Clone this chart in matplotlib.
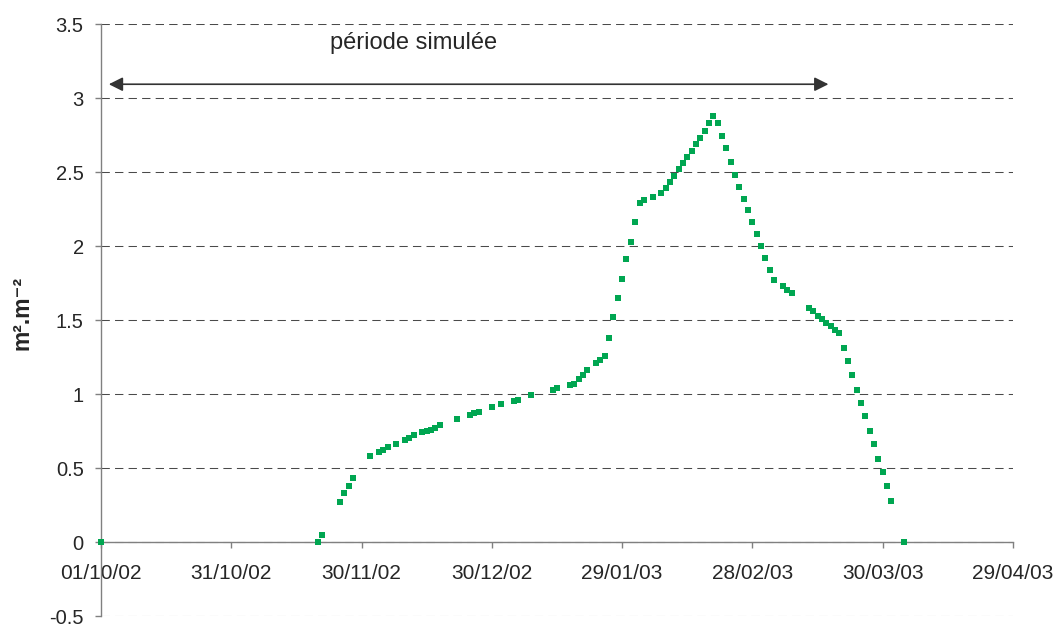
import datetime as dt
import matplotlib
matplotlib.use("Agg")
import matplotlib.pyplot as plt
import matplotlib.dates as mdates
from matplotlib.ticker import MultipleLocator, FormatStrFormatter

plt.rcParams["font.family"] = ["Liberation Sans", "DejaVu Sans"]
plt.rcParams["axes.unicode_minus"] = False

# Leaf area index (m2.m-2) by day since 1 October 2002
start_date = dt.date(2002, 10, 1)
day_offsets = [
    0, 50, 51, 55, 56, 57, 58, 62, 64, 65, 66, 68, 70, 71, 72, 74, 75, 76, 77, 78,
    82, 85, 86, 87, 90, 92, 95, 96, 99, 104, 105, 108, 109, 110, 111, 112, 114,
    115, 116, 117, 118, 119, 120, 121, 122, 123, 124, 125, 127, 129, 130, 131,
    132, 133, 134, 135, 136, 137, 138, 139, 140, 141, 142, 143, 144, 145, 146,
    147, 148, 149, 150, 151, 152, 153, 154, 155, 157, 158, 159, 163, 164, 165,
    166, 167, 168, 169, 170, 171, 172, 173, 174, 175, 176, 177, 178, 179, 180,
    181, 182, 185,
]
lai_values = [
    0.00, 0.00, 0.05, 0.27, 0.33, 0.38, 0.43, 0.58, 0.61, 0.62, 0.64, 0.66, 0.69,
    0.70, 0.72, 0.74, 0.75, 0.76, 0.77, 0.79, 0.83, 0.86, 0.87, 0.88, 0.91, 0.93,
    0.95, 0.96, 0.99, 1.03, 1.04, 1.06, 1.07, 1.10, 1.13, 1.16, 1.21, 1.23, 1.26,
    1.38, 1.52, 1.65, 1.78, 1.91, 2.03, 2.16, 2.29, 2.31, 2.33, 2.36, 2.39, 2.43,
    2.47, 2.52, 2.56, 2.60, 2.64, 2.69, 2.73, 2.78, 2.83, 2.88, 2.83, 2.74, 2.66,
    2.57, 2.48, 2.40, 2.32, 2.24, 2.16, 2.08, 2.00, 1.92, 1.84, 1.77, 1.73, 1.70,
    1.68, 1.58, 1.56, 1.53, 1.51, 1.48, 1.46, 1.43, 1.41, 1.31, 1.22, 1.13, 1.03,
    0.94, 0.85, 0.75, 0.66, 0.56, 0.47, 0.38, 0.28, 0.00,
]

tick_step_days = 30
n_ticks = 8
y_min, y_max, y_step = -0.5, 3.5, 0.5

# simulated period arrow (days since start) and its caption
period_start_day, period_end_day, period_y = 1.8, 167.5, 3.093
period_label = "période simulée"
period_label_day, period_label_y = 72, 3.37

dates = [start_date + dt.timedelta(days=d) for d in day_offsets]
tick_dates = [start_date + dt.timedelta(days=tick_step_days * i) for i in range(n_ticks)]

fig = plt.figure(figsize=(10.56, 6.26), dpi=100)
ax = fig.add_axes([101 / 1056, 10 / 626, 912 / 1056, 592 / 626])

ax.set_xlim(mdates.date2num(tick_dates[0]), mdates.date2num(tick_dates[-1]))
ax.set_ylim(y_min, y_max)

# horizontal dashed grid
ax.yaxis.set_major_locator(MultipleLocator(y_step))
ax.yaxis.set_major_formatter(FormatStrFormatter("%g"))
ax.grid(axis="y", color="#4a4a4a", linestyle=(0, (8, 5)), linewidth=0.75)
ax.set_axisbelow(True)

for side in ("top", "right"):
    ax.spines[side].set_visible(False)
ax.spines["bottom"].set_position(("data", 0))
for side in ("left", "bottom"):
    ax.spines[side].set_color("#808080")
    ax.spines[side].set_linewidth(1.0)

ax.set_xticks(mdates.date2num(tick_dates))
ax.xaxis.set_major_formatter(mdates.DateFormatter("%d/%m/%y"))
ax.tick_params(axis="x", direction="out", length=4, width=1, color="#808080",
               labelsize=15, pad=12, labelcolor="#262626")
ax.tick_params(axis="y", direction="out", length=4.5, width=1, color="#808080",
               labelsize=14.5, pad=8, labelcolor="#262626")

ax.plot(mdates.date2num(dates), lai_values, linestyle="none", marker="s",
        markersize=5, color="#00A651", markeredgewidth=0, clip_on=False, zorder=5)

x0 = mdates.date2num(start_date)
ax.annotate("", xy=(x0 + period_end_day, period_y), xytext=(x0 + period_start_day, period_y),
            arrowprops=dict(arrowstyle="<|-|>,head_length=0.6,head_width=0.3",
                            color="#333333", lw=1.2, shrinkA=0, shrinkB=0,
                            mutation_scale=14))
ax.text(x0 + period_label_day, period_label_y, period_label, ha="center", va="center",
        fontsize=17, color="#262626")

fig.text(22 / 1056, 0.5, "m².m⁻²", rotation=90, ha="center", va="center",
         fontsize=16.5, fontweight="bold", color="#262626")

fig.savefig("out.png", dpi=100)
